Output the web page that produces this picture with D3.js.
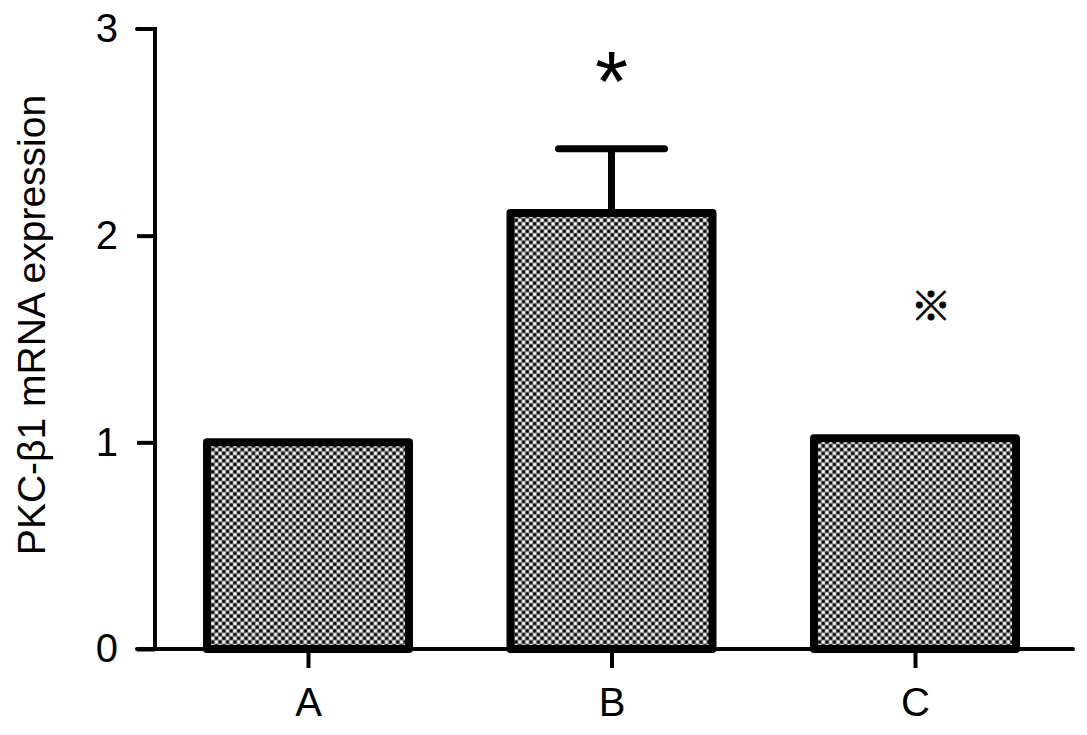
<!DOCTYPE html>
<html><head><meta charset="utf-8">
<script src="https://cdn.jsdelivr.net/npm/d3@7"></script>
<style>body{margin:0;background:#fff}svg{display:block}</style>
</head><body>
<svg id="c" width="1087" height="735"></svg>
<script>
const categories = ["A", "B", "C"];
const values = [1.0, 2.11, 1.02];
const errors = [0, 0.31, 0];
const marks = ["", "*", "※"];
const yTicks = [0, 1, 2, 3];
const yLabel = "PKC-β1 mRNA expression";

const svg = d3.select("#c");
const defs = svg.append("defs");
const pat = defs.append("pattern").attr("id","dots").attr("patternUnits","userSpaceOnUse")
  .attr("width",7.4).attr("height",7.4);
pat.append("rect").attr("width",7.4).attr("height",7.4).attr("fill","#808080");
[[1.85,1.85,"#000"],[5.55,5.55,"#000"],[5.55,1.85,"#fff"],[1.85,5.55,"#fff"]].forEach(([x,y,c])=>
  pat.append("circle").attr("cx",x).attr("cy",y).attr("r",1.7).attr("fill",c));

const x0 = 155, x1 = 1073, yTop = 29, yBot = 649;
const y = d3.scaleLinear().domain([0,3]).range([yBot, yTop]);
const font = "'Liberation Sans', Arial, sans-serif";

const bw = 202;
const xc = d3.scalePoint().domain(categories).range([308, 915]);
svg.selectAll("rect.bar").data(categories).enter().append("rect")
  .attr("x", d => xc(d) - bw/2).attr("width", bw)
  .attr("y", (d,i) => y(values[i])).attr("height", (d,i) => y(0) - y(values[i]))
  .attr("fill","url(#dots)").attr("stroke","#000").attr("stroke-width",8).attr("stroke-linejoin","round");

categories.forEach((d,i)=>{
  if(!errors[i]) return;
  const cx = xc(d);
  svg.append("line").attr("x1",cx).attr("x2",cx).attr("y1",y(values[i])).attr("y2",y(values[i]+errors[i]))
    .attr("stroke","#000").attr("stroke-width",7);
  svg.append("line").attr("x1",cx-53).attr("x2",cx+53).attr("y1",y(values[i]+errors[i])).attr("y2",y(values[i]+errors[i]))
    .attr("stroke","#000").attr("stroke-width",7).attr("stroke-linecap","round");
});

const yAxis = d3.axisLeft(y).tickValues(yTicks).tickSize(18).tickPadding(19).tickFormat(d3.format("d"));
const gy = svg.append("g").attr("transform",`translate(${x0},0)`).call(yAxis);
gy.select(".domain").attr("d", `M-18,${yTop}H0V${yBot}`).attr("stroke-width",4).attr("stroke-linecap","round");
gy.selectAll(".tick line").attr("stroke-width",4);
gy.selectAll(".tick text").attr("font-family",font).attr("font-size",40).attr("fill","#000");
gy.selectAll(".tick").filter(d=>d===3).select("line").remove();

const xAxis = d3.axisBottom(xc).tickSize(19).tickPadding(20);
const gx = svg.append("g").attr("transform",`translate(0,${yBot})`).call(xAxis);
gx.select(".domain").attr("d", `M${x0-18},0H${x1}`).attr("stroke-width",4).attr("stroke-linecap","round");
gx.selectAll(".tick line").attr("stroke-width",4);
gx.selectAll(".tick text").attr("font-family",font).attr("font-size",40).attr("fill","#000");

svg.append("text").attr("x", xc("B")).attr("y", 111).attr("text-anchor","middle")
  .attr("font-family",font).attr("font-size",85).text(marks[1]);
svg.append("text").attr("x", xc("C")+16).attr("y", 321).attr("text-anchor","middle")
  .attr("font-family","'Noto Sans CJK JP', sans-serif").attr("font-size",41)
  .attr("stroke","#000").attr("stroke-width",0.8).text(marks[2]);

svg.append("text").attr("transform",`translate(45,${(93+557)/2}) rotate(-90)`).attr("text-anchor","middle")
  .attr("font-family",font).attr("font-size",39).attr("fill","#000").text(yLabel);
</script>
</body></html>
